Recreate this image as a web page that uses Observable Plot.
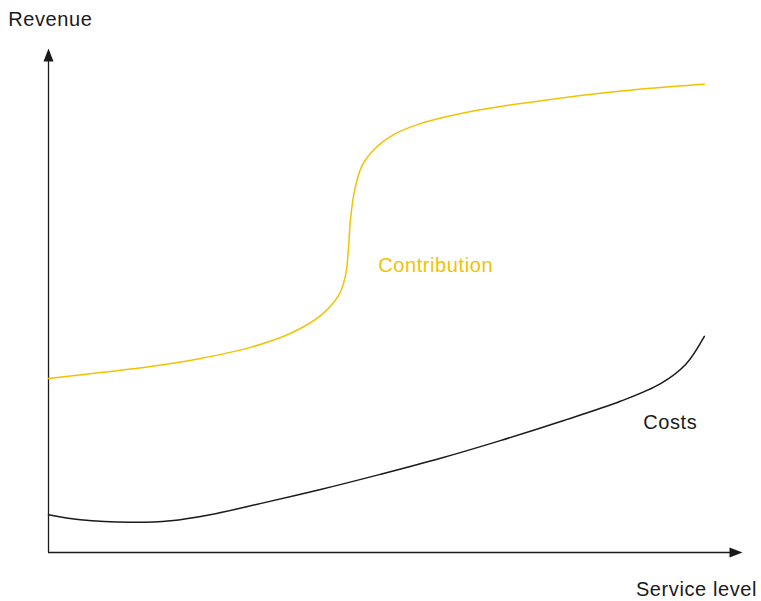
<!DOCTYPE html>
<html>
<head>
<meta charset="utf-8">
<script src="https://cdn.jsdelivr.net/npm/d3@7"></script>
<script src="https://cdn.jsdelivr.net/npm/@observablehq/plot@0.6"></script>
<style>
  html, body { margin: 0; padding: 0; background: #fff; }
  #chart svg { display: block; }
</style>
</head>
<body>
<div id="chart"></div>
<script>
// Service level (x) and revenue (y) in arbitrary units, 0–100
const contributionX = [0, 7.5, 14.7, 21.9, 29.1, 34.9, 39.2, 41.8, 42.8, 43.2, 43.5, 44.1, 45.2, 47.1, 50.0, 53.6, 59.4, 65.1, 72.3, 79.5, 86.7, 94.5];
const contributionY = [34.5, 35.7, 36.9, 38.5, 40.7, 43.5, 47.0, 51.0, 55.0, 59.9, 65.9, 71.8, 76.8, 80.2, 83.1, 85.1, 87.1, 88.5, 89.9, 91.1, 92.1, 92.9];
const costsX = [0, 4.6, 11.8, 17.6, 23.3, 30.5, 39.2, 47.8, 56.5, 65.1, 73.8, 82.4, 88.2, 91.8, 94.5];
const costsY = [7.5, 6.5, 6.0, 6.3, 7.5, 9.7, 12.5, 15.5, 18.7, 22.2, 26.0, 30.0, 33.5, 37.3, 42.9];
const startLabels = [
  {text: "Revenue", x: -5.8, y: 105.8, color: "#1a1a1a"},
  {text: "Contribution", x: 47.5, y: 56.9, color: "#f2c200"},
  {text: "Costs", x: 85.7, y: 25.8, color: "#1a1a1a"}
];
const endLabels = [
  {text: "Service level", x: 102.1, y: -7.3, color: "#1a1a1a"}
];

const contribution = contributionX.map((x, i) => ({x, y: contributionY[i]}));
const costs = costsX.map((x, i) => ({x, y: costsY[i]}));

const arrowHead = {
  draw(ctx) {
    ctx.moveTo(0, -6.5);
    ctx.lineTo(5, 6.5);
    ctx.lineTo(-5, 6.5);
    ctx.closePath();
  }
};

const textStyle = {x: "x", y: "y", text: "text", fill: "color", fontSize: 20, lineAnchor: "middle"};

const chart = Plot.plot({
  width: 761,
  height: 601,
  marginLeft: 48,
  marginRight: 19,
  marginTop: 48,
  marginBottom: 49,
  style: {fontFamily: "'Liberation Sans', Arial, Helvetica, sans-serif", background: "#fff", letterSpacing: "0.6px"},
  x: {domain: [0, 100], axis: null},
  y: {domain: [0, 100], axis: null},
  marks: [
    Plot.ruleY([0], {x1: 0, x2: 98.5, stroke: "#1a1a1a", strokeWidth: 1.3}),
    Plot.ruleX([0], {y1: 0, y2: 97.5, stroke: "#1a1a1a", strokeWidth: 1.3}),
    Plot.dot([{x: 0, y: 100}], {x: "x", y: "y", symbol: arrowHead, fill: "#1a1a1a", stroke: null, dy: 6.5}),
    Plot.dot([{x: 100, y: 0}], {x: "x", y: "y", symbol: arrowHead, fill: "#1a1a1a", stroke: null, rotate: 90, dx: -6.5}),
    Plot.line(contribution, {x: "x", y: "y", stroke: "#f2c200", strokeWidth: 1.5, curve: "catmull-rom"}),
    Plot.line(costs, {x: "x", y: "y", stroke: "#1a1a1a", strokeWidth: 1.5, curve: "catmull-rom"}),
    Plot.text(startLabels, {...textStyle, textAnchor: "start"}),
    Plot.text(endLabels, {...textStyle, textAnchor: "end"})
  ]
});
document.getElementById("chart").appendChild(chart);
</script>
</body>
</html>
